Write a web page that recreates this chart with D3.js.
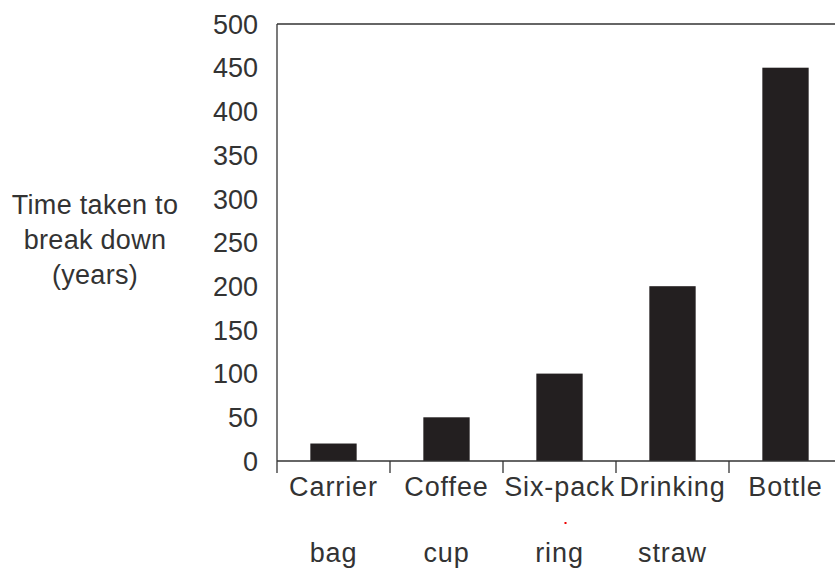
<!DOCTYPE html>
<html><head><meta charset="utf-8">
<script src="https://cdn.jsdelivr.net/npm/d3@7"></script>
<style>body{margin:0;background:#fff}svg{display:block}text{font-family:"Liberation Sans",Arial,sans-serif;fill:#333}</style>
</head><body>
<svg id="c" width="835" height="570"></svg>
<script>
const categories = ["Carrier bag", "Coffee cup", "Six-pack ring", "Drinking straw", "Bottle"];
const labelLine1 = ["Carrier", "Coffee", "Six-pack", "Drinking", "Bottle"];
const labelLine2 = ["bag", "cup", "ring", "straw", ""];
const values = [20, 50, 100, 200, 450];
const yTicks = [0, 50, 100, 150, 200, 250, 300, 350, 400, 450, 500];
const yTitle = ["Time taken to", "break down", "(years)"];

(function () {
const svg = d3.select("#c");
const pl = 277, pr = 842, pt = 24, pb = 461;
const fs = 27;

const x = d3.scaleBand().domain(categories).range([pl, pr]).paddingInner(0.59).paddingOuter(0.295);
const y = d3.scaleLinear().domain([0, 500]).range([pb, pt]);

// bars
svg.append("g").selectAll("rect").data(values).join("rect")
  .attr("x", (d, i) => x(categories[i]))
  .attr("width", x.bandwidth())
  .attr("y", d => y(d))
  .attr("height", d => y(0) - y(d))
  .attr("fill", "#231f20");

// frame lines
const g = svg.append("g").attr("stroke", "#333").attr("stroke-width", 1.3).attr("fill", "none");
g.append("line").attr("x1", pl).attr("x2", pl).attr("y1", pt).attr("y2", pb + 12);
g.append("line").attr("x1", pl).attr("x2", pr).attr("y1", pt).attr("y2", pt);
g.append("line").attr("x1", pl).attr("x2", pr).attr("y1", pb).attr("y2", pb);
const step = x.step();
categories.slice(1).forEach(c => {
  const bx = x(c) - step * x.paddingInner() / 2;
  g.append("line").attr("x1", bx).attr("x2", bx).attr("y1", pb).attr("y2", pb + 12);
});

// y tick labels
svg.append("g").selectAll("text").data(yTicks).join("text")
  .attr("x", 258).attr("y", d => y(d)).attr("dy", "0.36em")
  .attr("text-anchor", "end").attr("font-size", fs).text(d => d);

// x labels
const cx = c => x(c) + x.bandwidth() / 2;
svg.append("g").selectAll("text").data(categories).join("text")
  .attr("x", d => cx(d)).attr("y", 496).attr("text-anchor", "middle")
  .attr("font-size", fs).attr("letter-spacing", 0.9).text((d, i) => labelLine1[i]);
svg.append("g").selectAll("text").data(categories).join("text")
  .attr("x", d => cx(d)).attr("y", 562).attr("text-anchor", "middle")
  .attr("font-size", fs).attr("letter-spacing", 0.9).text((d, i) => labelLine2[i]);

// small red dot
svg.append("rect").attr("x", cx(categories[2]) + 5).attr("y", 522).attr("width", 2).attr("height", 2).attr("fill", "#e00");

// y title
svg.append("g").selectAll("text").data(yTitle).join("text")
  .attr("x", 95).attr("y", (d, i) => 214 + i * 35).attr("text-anchor", "middle")
  .attr("font-size", fs).attr("letter-spacing", 0.3).text(d => d);
})();
</script>
</body></html>
